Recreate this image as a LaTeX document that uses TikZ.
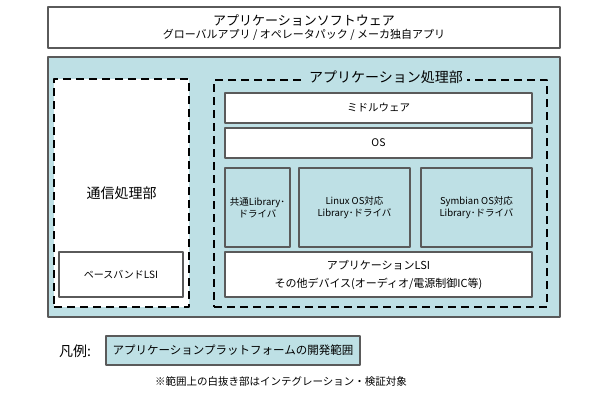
\documentclass[tikz,border=0pt]{standalone}
\usepackage{fontspec}
\setmainfont{Noto Sans CJK JP}
\definecolor{plat}{RGB}{190,224,229}
\definecolor{edge}{RGB}{90,90,90}
\tikzset{
	blk/.style={draw=edge, line width=1.2pt, fill=white, align=center, inner sep=0pt, outer sep=0pt},
	lib/.style={blk, fill=plat},
	dsh/.style={draw=black, line width=1.8pt, dash pattern=on 8pt off 5pt, outer sep=0pt, inner sep=0pt},
}
\newcommand{\fs}[2]{\fontsize{#1}{#2}\selectfont}
\begin{document}
\begin{tikzpicture}[x=1pt, y=-1pt, line join=round, font=\fs{10.5}{13}]
	\useasboundingbox (0,0) rectangle (610,400);
	\def\mcx{378.5} \def\mwid{307} % middle column
	% software on top
	\node[blk, minimum width=512, minimum height=41] (apps) at (304,27.5)
		{{\fs{13}{18}アプリケーションソフトウェア}\\{\fs{11}{13}グローバルアプリ / オペレータパック / メーカ独自アプリ}};
	% platform
	\node[blk, fill=plat, minimum width=512, minimum height=260] (plat) at (304,187) {};
	\node[dsh, fill=white, minimum width=135, minimum height=228, font=\fs{14}{16}] (comm) at (121.5,193) {通信処理部};
	\node[blk, minimum width=124, minimum height=45, font=\fs{10}{12}] (bb) at (121,274.5) {ベースバンドLSI};
	\node[dsh, minimum width=333, minimum height=227] (appl) at (380.5,193.5) {};
	\node[fill=plat, inner xsep=4pt, inner ysep=1pt, font=\fs{14}{16}] (applbl) at (386,77) {アプリケーション処理部};
	\node[blk, minimum width=\mwid, minimum height=30] (mw) at (\mcx,108) {ミドルウェア};
	\node[blk, minimum width=\mwid, minimum height=30] (os) at (\mcx,143) {OS};
	\foreach \x/\w/\nm/\txt in {257.5/65/lbc/{共通Library･\\ドライバ},
		354.5/111/lbl/{Linux OS対応\\Library･ドライバ},
		476.5/111/lbs/{Symbian OS対応\\Library･ドライバ}}{
		\node[lib, minimum width=\w, minimum height=79, font=\fs{9.5}{12.5}] (\nm) at (\x,207.5) {\txt};
	}
	\node[blk, minimum width=\mwid, minimum height=45, font=\fs{11}{18}] (alsi) at (\mcx,274.5)
		{アプリケーションLSI\\その他デバイス(オーディオ/電源制御IC等)};
	% legend
	\node[font=\fs{14}{16}] (leg) at (75,351) {凡例:};
	\node[lib, minimum width=254, minimum height=29, font=\fs{11.5}{13}] (legbox) at (233,350.5)
		{アプリケーションプラットフォームの開発範囲};
	\node[font=\fs{10.5}{13}] (note) at (281,382) {※範囲上の白抜き部はインテグレーション・検証対象};
\end{tikzpicture}
\end{document}
